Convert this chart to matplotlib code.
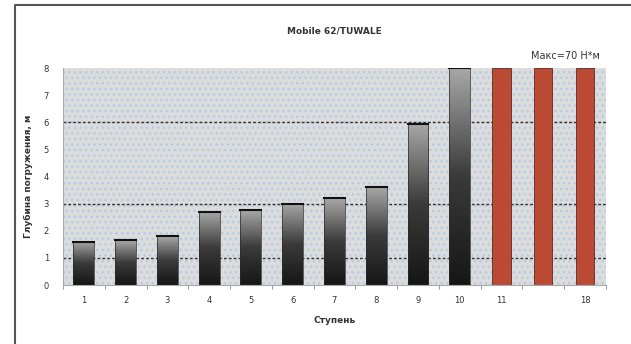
import numpy as np
import matplotlib
matplotlib.use('Agg')
import matplotlib.pyplot as plt
from matplotlib.colors import LinearSegmentedColormap
from matplotlib.patches import Rectangle
from matplotlib.lines import Line2D

# data
steps = ['1', '2', '3', '4', '5', '6', '7', '8', '9', '10', '11', '', '18']
depth = [1.6, 1.65, 1.8, 2.7, 2.75, 3.0, 3.2, 3.6, 5.95, 8.0, 8.0, 8.0, 8.0]
over_max = [False]*10 + [True]*3
grid_levels = [1, 3, 6]

fig = plt.figure(figsize=(6.31, 3.44), dpi=100)
ax = fig.add_axes([0.0998, 0.1715, 0.8605, 0.6308])

# frame (only left and top edges show in the picture)
fx, fy = 15/631, 1 - 5/344
fig.lines.append(Line2D([fx, fx, 1], [0, fy, fy], transform=fig.transFigure,
                        color='#555555', lw=1.5))

ax.set_facecolor('#dcdcdc')
ax.add_patch(Rectangle((-0.5, 0), 13, 8, facecolor='none', edgecolor='#b3cbe6',
                       hatch='...', lw=0, zorder=0.5))

for g in grid_levels:
    ax.axhline(g, color='#333333', ls=(0, (2, 1.5)), lw=1.0, zorder=1)

cmap = LinearSegmentedColormap.from_list('bar', ['#161616', '#3a3a3a', '#a8a8a8'])
grad = np.linspace(0, 1, 256).reshape(-1, 1)

x = np.arange(len(steps))
for xi, d, red in zip(x, depth, over_max):
    if red:
        ax.bar(xi, d, width=0.44, color='#bb4a35', edgecolor='#5a2a20', lw=0.6, zorder=2)
    else:
        b = ax.bar(xi, d, width=0.5, color='none', edgecolor='#2a2a2a', lw=0.5, zorder=3)[0]
        im = ax.imshow(grad, cmap=cmap, origin='lower', aspect='auto',
                       extent=[xi - 0.25, xi + 0.25, 0, d], zorder=2)
        im.set_clip_path(b)
        ax.plot([xi - 0.25, xi + 0.25], [d, d], color='#111111', lw=1.5, zorder=3)

ax.set_xlim(-0.5, 12.5)
ax.set_ylim(0, 8)
ax.set_yticks(range(0, 9))
ax.set_yticklabels([str(v) for v in range(0, 9)], fontsize=6, color='#333333')
ax.set_xticks(x)
ax.set_xticklabels(steps, fontsize=6, color='#333333')
ax.set_xticks(np.arange(-0.5, 13, 1), minor=True)
ax.tick_params(axis='x', which='major', length=0, pad=8)
ax.tick_params(axis='x', which='minor', length=3, color='#888888')
ax.tick_params(axis='y', length=0, pad=10)
for s in ['top', 'right']:
    ax.spines[s].set_visible(False)
ax.spines['left'].set_color('#aaaaaa')
ax.spines['bottom'].set_color('#aaaaaa')

ax.set_title('Mobile 62/TUWALE', fontsize=6.5, fontweight='bold', color='#333333', pad=25)
ax.set_xlabel('Ступень', fontsize=6.5, fontweight='bold', color='#333333', labelpad=8)
ax.set_ylabel('Глубина погружения, м', fontsize=6.5, fontweight='bold', color='#333333', labelpad=8)
ax.text(0.925, 1.03, 'Макс=70 Н*м', transform=ax.transAxes, fontsize=7,
        color='#333333', ha='center', va='bottom')

fig.savefig('out.png', dpi=100)
